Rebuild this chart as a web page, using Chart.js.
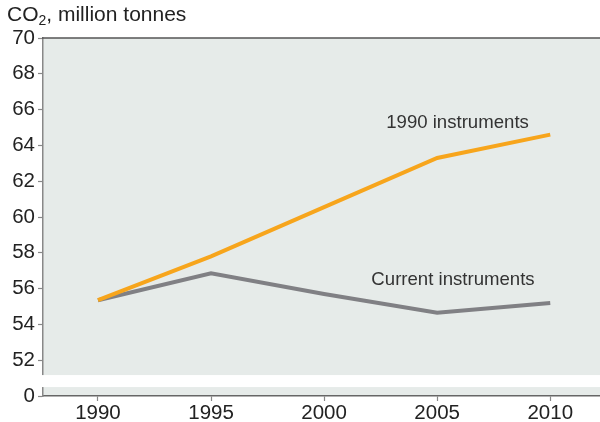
<!DOCTYPE html>
<html>
<head>
<meta charset="utf-8">
<script src="https://cdn.jsdelivr.net/npm/chart.js@4/dist/chart.umd.min.js"></script>
<style>
  html, body { margin: 0; padding: 0; background: #fff; }
  #wrap { position: relative; width: 600px; height: 422px; }
  #title { position: absolute; left: 7px; top: 2px; font-family: "Liberation Sans", Arial, sans-serif;
           font-size: 21px; color: #222; white-space: nowrap; }
  #title sub { font-size: 14px; vertical-align: -4px; line-height: 0; }
</style>
</head>
<body>
<div id="wrap">
  <canvas id="chart" width="600" height="422"></canvas>
  <div id="title">CO<sub>2</sub>, million tonnes</div>
</div>
<script>
// ── Data ─────────────────────────────────────────────────────────────────────
const YEARS = [1990, 1995, 2000, 2005, 2010];
const INSTR_1990 = [55.35, 57.8, 60.55, 63.3, 64.6];
const INSTR_CURRENT = [55.35, 56.85, 55.7, 54.65, 55.2];
const Y_TICKS = [50, 52, 54, 56, 58, 60, 62, 64, 66, 68, 70];
// 50 on the axis stands for the broken-off zero
const AXIS_ZERO = 50;

const FONT = "'Liberation Sans', Arial, sans-serif";
const BG = "#e6ebe9";

const toPoints = (vals) => YEARS.map((y, i) => ({ x: y, y: vals[i] }));

// ── Plugins ──────────────────────────────────────────────────────────────────
const plotDecor = {
  id: "plotDecor",
  beforeDraw(chart) {
    const { ctx, chartArea: a } = chart;
    ctx.save();
    ctx.fillStyle = BG;
    ctx.fillRect(a.left, a.top, a.right - a.left, a.bottom - a.top);
    ctx.restore();
  },
  afterDraw(chart) {
    const { ctx, chartArea: a, scales } = chart;
    const y = scales.y, x = scales.x;
    ctx.save();
    // white gap of the broken axis
    const g1 = y.getPixelForValue(51.17), g2 = y.getPixelForValue(50.5);
    ctx.fillStyle = "#fff";
    ctx.fillRect(a.left - 2, g1, a.right - a.left + 2, g2 - g1);
    // top frame line
    ctx.strokeStyle = "#555";
    ctx.lineWidth = 1.5;
    ctx.beginPath();
    ctx.moveTo(a.left - 1, a.top);
    ctx.lineTo(a.right, a.top);
    ctx.stroke();
    // series labels
    ctx.fillStyle = "#333";
    ctx.font = "18.6px " + FONT;
    ctx.textAlign = "center";
    ctx.textBaseline = "middle";
    ctx.fillText("1990 instruments", x.getPixelForValue(2005.9), y.getPixelForValue(65.28));
    ctx.fillText("Current instruments", x.getPixelForValue(2005.7), y.getPixelForValue(56.48));
    ctx.restore();
  },
};

// ── Chart ────────────────────────────────────────────────────────────────────
new Chart(document.getElementById("chart"), {
  type: "line",
  data: {
    datasets: [
      { label: "1990 instruments", data: toPoints(INSTR_1990), borderColor: "#f7a51c",
        borderWidth: 4, pointRadius: 0, tension: 0, borderCapStyle: "butt" },
      { label: "Current instruments", data: toPoints(INSTR_CURRENT), borderColor: "#808084",
        borderWidth: 4, pointRadius: 0, tension: 0, borderCapStyle: "butt" },
    ],
  },
  options: {
    responsive: false,
    animation: false,
    layout: { padding: { top: 38, right: 0, left: 0, bottom: 0 } },
    plugins: { legend: { display: false }, tooltip: { enabled: false } },
    scales: {
      x: {
        type: "linear", min: 1987.57, max: 2012.2,
        afterBuildTicks: (s) => { s.ticks = YEARS.map((v) => ({ value: v })); },
        afterFit: (s) => { s.height = 26; },
        border: { color: "#666", width: 1.5 },
        grid: { drawOnChartArea: false, tickLength: 5, color: "#888", tickWidth: 1.2 },
        ticks: { color: "#222", font: { family: FONT, size: 20.5 }, padding: 0, maxRotation: 0,
                 callback: (v) => String(v) },
      },
      y: {
        min: 50, max: 70,
        afterBuildTicks: (s) => { s.ticks = Y_TICKS.map((v) => ({ value: v })); },
        afterFit: (s) => { s.width = 43; },
        border: { color: "#888", width: 1.5 },
        grid: { drawOnChartArea: false, tickLength: 5, color: "#888", tickWidth: 1.2 },
        ticks: { color: "#222", font: { family: FONT, size: 20.5 }, padding: 3,
                 callback: (v) => (v === AXIS_ZERO ? "0" : String(v)) },
      },
    },
  },
  plugins: [plotDecor],
});
</script>
</body>
</html>
